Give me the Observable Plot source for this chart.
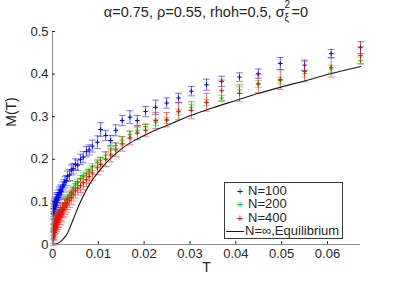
<!DOCTYPE html>
<html>
<head>
<meta charset="utf-8">
<script src="https://cdn.jsdelivr.net/npm/d3@7"></script>
<script src="https://cdn.jsdelivr.net/npm/@observablehq/plot@0.6"></script>
<style>
  html, body { margin: 0; padding: 0; background: #fff; }
  #wrap { position: relative; width: 399px; height: 281px; font-family: "Liberation Sans", Arial, Helvetica, sans-serif; color: #262626; }
  #title { position: absolute; left: 52px; width: 308px; top: 4px; text-align: center; font-size: 14.5px; line-height: 16px; white-space: nowrap; }
  #legend { position: absolute; left: 224px; top: 182px; width: 119px; height: 57px; border: 1px solid #3a3a3a; background: #fff; font-size: 13px; box-sizing: border-box; }
  .row { position: absolute; left: 0; height: 14px; line-height: 14px; white-space: nowrap; }
  .mk { position: absolute; left: 10px; width: 10px; text-align: center; font-size: 11px; }
  .lb { position: absolute; left: 23px; }
  #ylab { position: absolute; left: 3px; top: 112px; transform-origin: left top; transform: rotate(-90deg) translate(-50%, 0); font-size: 14px; }
  svg { position: absolute; left: 0; top: 0; }
</style>
</head>
<body>
<div id="wrap">
  <div id="title">α=0.75, ρ=0.55, rhoh=0.5, σ<span style="display:inline-block;position:relative;width:7px;height:10px;vertical-align:baseline;"><span style="position:absolute;left:0;top:-7px;font-size:10px;line-height:10px;">2</span><span style="position:absolute;left:0;top:6px;font-size:10px;line-height:10px;">ξ</span></span>=0</div>
</div>
<script>
// Temperatures (shared by all three series)
const T = [0.0002, 0.00025, 0.0003, 0.00036, 0.00042, 0.00048, 0.00055, 0.00062, 0.0007, 0.00078,
  0.00087, 0.00097, 0.00108, 0.0012, 0.00133, 0.00147, 0.00163, 0.0018, 0.002, 0.0022,
  0.00245, 0.0027, 0.003, 0.0033, 0.0037, 0.0041, 0.0045, 0.005, 0.0055, 0.0061,
  0.0067, 0.0074, 0.0080, 0.0087, 0.0098, 0.0105, 0.0116, 0.0127, 0.0138, 0.0152,
  0.0169, 0.0185, 0.0203, 0.0225, 0.0249, 0.0275, 0.0303, 0.0336, 0.0369, 0.0408,
  0.0449, 0.0497, 0.0550, 0.0608, 0.0672];

// N=100
const mN100 = [0.072, 0.085, 0.078, 0.090, 0.082, 0.095, 0.088, 0.100, 0.093, 0.105,
  0.098, 0.110, 0.104, 0.116, 0.110, 0.122, 0.118, 0.128, 0.124, 0.135,
  0.140, 0.146, 0.150, 0.160, 0.163, 0.175, 0.178, 0.188, 0.186, 0.200,
  0.205, 0.218, 0.222, 0.231, 0.240, 0.270, 0.256, 0.244, 0.268, 0.291,
  0.299, 0.291, 0.312, 0.322, 0.332, 0.344, 0.360, 0.375, 0.383, 0.393,
  0.401, 0.425, 0.421, 0.448, 0.462];
const eN100 = [0.012, 0.012, 0.012, 0.013, 0.012, 0.012, 0.013, 0.012, 0.012, 0.013,
  0.012, 0.012, 0.013, 0.012, 0.012, 0.013, 0.012, 0.012, 0.013, 0.012,
  0.012, 0.013, 0.012, 0.012, 0.013, 0.012, 0.012, 0.013, 0.012, 0.012,
  0.013, 0.012, 0.012, 0.014, 0.015, 0.016, 0.012, 0.012, 0.013, 0.012,
  0.015, 0.012, 0.012, 0.017, 0.012, 0.011, 0.011, 0.013, 0.012, 0.010,
  0.011, 0.014, 0.012, 0.010, 0.014];

// N=200
const mN200 = [0.030, 0.038, 0.034, 0.042, 0.040, 0.048, 0.045, 0.052, 0.050, 0.058,
  0.055, 0.062, 0.060, 0.068, 0.066, 0.074, 0.072, 0.080, 0.078, 0.088,
  0.092, 0.098, 0.104, 0.110, 0.116, 0.122, 0.130, 0.140, 0.146, 0.155,
  0.160, 0.166, 0.172, 0.182, 0.192, 0.198, 0.210, 0.222, 0.232, 0.245,
  0.258, 0.268, 0.277, 0.287, 0.291, 0.311, 0.322, 0.333, 0.344, 0.363,
  0.377, 0.385, 0.401, 0.412, 0.432];
const eN200 = [0.008, 0.008, 0.007, 0.008, 0.008, 0.007, 0.008, 0.008, 0.007, 0.008,
  0.008, 0.007, 0.008, 0.008, 0.007, 0.008, 0.008, 0.007, 0.008, 0.008,
  0.007, 0.008, 0.008, 0.007, 0.008, 0.008, 0.007, 0.008, 0.008, 0.007,
  0.008, 0.008, 0.007, 0.008, 0.008, 0.007, 0.008, 0.008, 0.007, 0.008,
  0.008, 0.007, 0.006, 0.007, 0.007, 0.007, 0.007, 0.007, 0.006, 0.008,
  0.008, 0.008, 0.008, 0.009, 0.008];

// N=400
const mN400 = [0.015, 0.030, 0.020, 0.040, 0.028, 0.045, 0.035, 0.050, 0.042, 0.055,
  0.048, 0.060, 0.052, 0.065, 0.058, 0.070, 0.064, 0.075, 0.070, 0.080,
  0.082, 0.088, 0.092, 0.098, 0.104, 0.110, 0.118, 0.126, 0.132, 0.138,
  0.145, 0.152, 0.160, 0.168, 0.180, 0.188, 0.200, 0.210, 0.222, 0.236,
  0.250, 0.262, 0.268, 0.291, 0.293, 0.313, 0.315, 0.334, 0.361, 0.355,
  0.377, 0.387, 0.406, 0.416, 0.444];
const eN400 = [0.018, 0.018, 0.017, 0.018, 0.018, 0.017, 0.018, 0.018, 0.017, 0.018,
  0.017, 0.018, 0.017, 0.017, 0.018, 0.017, 0.017, 0.018, 0.017, 0.017,
  0.016, 0.017, 0.016, 0.016, 0.017, 0.016, 0.016, 0.017, 0.016, 0.016,
  0.017, 0.016, 0.016, 0.017, 0.016, 0.016, 0.017, 0.016, 0.016, 0.017,
  0.016, 0.016, 0.014, 0.019, 0.017, 0.020, 0.020, 0.021, 0.025, 0.020,
  0.021, 0.023, 0.024, 0.023, 0.020];

// Equilibrium curve (N = infinity)
const eqT = [0, 0.0005, 0.001, 0.0015, 0.002, 0.0025, 0.003, 0.0035, 0.004, 0.0045,
  0.005, 0.006, 0.007, 0.008, 0.009, 0.010, 0.012, 0.014, 0.016, 0.018,
  0.020, 0.023, 0.026, 0.030, 0.035, 0.040, 0.045, 0.050, 0.055, 0.060, 0.0672];
const eqM = [0, 0.0005, 0.002, 0.005, 0.009, 0.015, 0.022, 0.032, 0.045, 0.058,
  0.072, 0.098, 0.120, 0.140, 0.156, 0.170, 0.195, 0.215, 0.232, 0.245,
  0.256, 0.271, 0.284, 0.302, 0.321, 0.338, 0.355, 0.370, 0.384, 0.399, 0.418];

const xTicks = [0, 0.01, 0.02, 0.03, 0.04, 0.05, 0.06];
const yTicks = [0, 0.1, 0.2, 0.3, 0.4, 0.5];
const xTickLabels = ["0", "0.01", "0.02", "0.03", "0.04", "0.05", "0.06"];
const yTickLabels = ["0", "0.1", "0.2", "0.3", "0.4", "0.5"];

const seriesNames = ["N=100", "N=200", "N=400"];
const seriesColors = ["#0000ff", "#00e000", "#ff0000"];
const seriesM = [mN100, mN200, mN400];
const seriesE = [eN100, eN200, eN400];

const rows = seriesNames.flatMap((name, s) => T.map((t, i) => ({
  name, s, T: t, M: seriesM[s][i], lo: seriesM[s][i] - seriesE[s][i], hi: seriesM[s][i] + seriesE[s][i]
})));
const eq = eqT.map((t, i) => ({T: t, M: eqM[i]}));

const capSymbol = {
  draw(context, size) {
    const w = Math.sqrt(size / Math.PI);
    context.moveTo(-w, 0);
    context.lineTo(w, 0);
  }
};

const marks = [];
seriesNames.forEach((name, s) => {
  const d = rows.filter(r => r.s === s);
  const c = seriesColors[s];
  marks.push(Plot.ruleX(d, {x: "T", y1: "lo", y2: "hi", stroke: c, strokeOpacity: 0.6, strokeWidth: 1}));
  marks.push(Plot.dot(d, {x: "T", y: "lo", symbol: capSymbol, r: 3.5, stroke: c, strokeOpacity: 0.5, strokeWidth: 1}));
  marks.push(Plot.dot(d, {x: "T", y: "hi", symbol: capSymbol, r: 3.5, stroke: c, strokeOpacity: 0.5, strokeWidth: 1}));
  marks.push(Plot.dot(d, {x: "T", y: "M", symbol: "plus", r: 1.6, stroke: c, strokeWidth: 1}));
});
marks.push(Plot.line(eq, {x: "T", y: "M", stroke: "#1a1a1a", strokeWidth: 1.1, curve: "monotone-x"}));

// axes
marks.push(Plot.ruleX([0], {stroke: "#8c8c8c", strokeWidth: 1}));
marks.push(Plot.ruleY([0], {stroke: "#8c8c8c", strokeWidth: 1}));
marks.push(Plot.tickX(xTicks.slice(1), {x: d => d, stroke: "#262626", insetTop: 210}));
marks.push(Plot.tickY(yTicks.slice(1), {y: d => d, stroke: "#262626", insetRight: 305}));
marks.push(Plot.axisX(xTicks, {tickSize: 0, tickPadding: 4, tickFormat: (d, i) => xTickLabels[i], fontSize: 13, fill: "#262626", label: null}));
marks.push(Plot.axisY(yTicks, {tickSize: 0, tickPadding: 4, tickFormat: (d, i) => yTickLabels[i], fontSize: 13, fill: "#262626", label: null}));
marks.push(Plot.text(["T"], {frameAnchor: "bottom", dy: 27, text: d => d, fontSize: 14, fill: "#262626"}));

const chart = Plot.plot({
  width: 399,
  height: 281,
  marginLeft: 52,
  marginRight: 39,
  marginTop: 31,
  marginBottom: 37,
  style: {fontFamily: "'Liberation Sans', Arial, Helvetica, sans-serif", background: "transparent", overflow: "visible"},
  x: {domain: [0, 0.0672]},
  y: {domain: [0, 0.5]},
  marks
});
const wrap = document.getElementById("wrap");
wrap.insertBefore(chart, wrap.firstChild);

const ylab = document.createElement("div");
ylab.id = "ylab";
ylab.textContent = "M(T)";
wrap.appendChild(ylab);

const legend = document.createElement("div");
legend.id = "legend";
seriesNames.forEach((name, s) => {
  const r = document.createElement("div");
  r.className = "row";
  r.style.top = (0.5 + s * 13.5) + "px";
  r.innerHTML = `<span class="mk" style="color:${seriesColors[s]}">+</span><span class="lb">${name}</span>`;
  legend.appendChild(r);
});
const r4 = document.createElement("div");
r4.className = "row";
r4.style.top = (0.5 + 3 * 13.5) + "px";
r4.innerHTML = `<span style="position:absolute;left:1px;top:7px;width:18px;height:0;border-top:1px solid #1a1a1a;"></span><span class="lb" style="left:20px">N=∞,Equilibrium</span>`;
legend.appendChild(r4);
wrap.appendChild(legend);
</script>
</body>
</html>
